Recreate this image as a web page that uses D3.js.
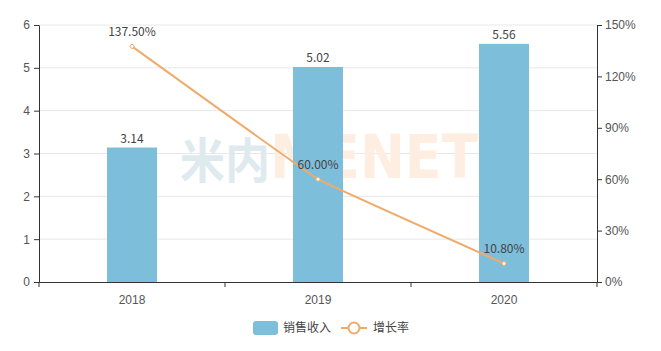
<!DOCTYPE html>
<html>
<head>
<meta charset="utf-8">
<script src="https://cdn.jsdelivr.net/npm/d3@7"></script>
<style>
  body { margin: 0; background: #fff; }
  svg { display: block; font-family: "Microsoft YaHei", "Noto Sans CJK SC", "Noto Sans", sans-serif; }
</style>
</head>
<body>
<svg id="chart" width="661" height="351"></svg>
<script>
const years = ["2018", "2019", "2020"];
const sales = [3.14, 5.02, 5.56];
const growth = [137.5, 60.0, 10.8];
const leftTicks = [0, 1, 2, 3, 4, 5, 6];
const rightTicks = [0, 30, 60, 90, 120, 150];

const margin = { top: 25, right: 64, bottom: 69, left: 39 };
const width = 661, height = 351;
const innerW = width - margin.left - margin.right;
const innerH = height - margin.top - margin.bottom;

const barColor = "#7dbedb";
const lineColor = "#f0ab6b";

const svg = d3.select("#chart");

const xScale = d3.scaleBand().domain(years).range([0, innerW]);
const yLeft = d3.scaleLinear().domain([0, 6]).range([innerH, 0]);
const yRight = d3.scaleLinear().domain([0, 150]).range([innerH, 0]);

const g = svg.append("g").attr("transform", `translate(${margin.left},${margin.top})`);

// grid lines
g.selectAll(".grid")
  .data(leftTicks.slice(1))
  .join("line")
    .attr("x1", 0).attr("x2", innerW)
    .attr("y1", d => yLeft(d)).attr("y2", d => yLeft(d))
    .attr("stroke", "#e8e8e8");

// watermark (behind marks)
g.append("text")
  .attr("x", 141).attr("y", 153)
  .attr("font-size", 48).attr("font-weight", "bold")
  .attr("font-family", "'Noto Sans CJK SC', sans-serif")
  .attr("textLength", 90).attr("lengthAdjust", "spacingAndGlyphs")
  .attr("fill", "#dfeaef")
  .text("米内");
g.append("text")
  .attr("x", 231).attr("y", 153)
  .attr("font-size", 61).attr("font-weight", "bold")
  .attr("font-family", "'DejaVu Sans', sans-serif")
  .attr("textLength", 208).attr("lengthAdjust", "spacingAndGlyphs")
  .attr("fill", "#fdeee1")
  .text("MENET");

// bars
const barW = 50;
g.selectAll(".bar")
  .data(sales)
  .join("rect")
    .attr("x", (d, i) => xScale(years[i]) + xScale.bandwidth() / 2 - barW / 2)
    .attr("y", d => yLeft(d))
    .attr("width", barW)
    .attr("height", d => innerH - yLeft(d))
    .attr("fill", barColor);

g.selectAll(".bar-label")
  .data(sales)
  .join("text")
    .attr("x", (d, i) => xScale(years[i]) + xScale.bandwidth() / 2)
    .attr("y", d => yLeft(d) - 5)
    .attr("text-anchor", "middle")
    .attr("font-size", 12)
    .attr("fill", "#444")
    .text(d => d.toFixed(2));

// axes
const xAxis = d3.axisBottom(xScale).tickSize(5).tickSizeOuter(0);
const xg = g.append("g").attr("transform", `translate(0,${innerH})`).call(xAxis);
// ticks at band boundaries
xg.selectAll(".tick line").remove();
xg.selectAll(".bound")
  .data([0, 1, 2, 3])
  .join("line")
    .attr("x1", d => d * xScale.step()).attr("x2", d => d * xScale.step())
    .attr("y1", 0).attr("y2", 5)
    .attr("stroke", "#333");
xg.select(".domain").attr("stroke", "#333");
xg.selectAll("text").attr("font-size", 12).attr("fill", "#555").attr("dy", "1.2em");

const leftAxis = d3.axisLeft(yLeft).tickValues(leftTicks).tickSize(5).tickSizeOuter(0).tickFormat(d3.format("d"));
const lg = g.append("g").call(leftAxis);
lg.select(".domain").attr("stroke", "#333");
lg.selectAll(".tick line").attr("stroke", "#333");
lg.selectAll("text").attr("font-size", 12).attr("fill", "#555").attr("x", -9);

const rightAxis = d3.axisRight(yRight).tickValues(rightTicks).tickSize(5).tickSizeOuter(0).tickFormat(d => d + "%");
const rg = g.append("g").attr("transform", `translate(${innerW},0)`).call(rightAxis);
rg.select(".domain").attr("stroke", "#333");
rg.selectAll(".tick line").attr("stroke", "#333");
rg.selectAll("text").attr("font-size", 12).attr("fill", "#555").attr("x", 8);

// line
const lineGen = d3.line()
  .x((d, i) => xScale(years[i]) + xScale.bandwidth() / 2)
  .y(d => yRight(d))
  .curve(d3.curveCardinal.tension(0.85));

g.append("path")
  .datum(growth)
  .attr("d", lineGen)
  .attr("fill", "none")
  .attr("stroke", lineColor)
  .attr("stroke-width", 2);

g.selectAll(".pt")
  .data(growth)
  .join("circle")
    .attr("cx", (d, i) => xScale(years[i]) + xScale.bandwidth() / 2)
    .attr("cy", d => yRight(d))
    .attr("r", 2)
    .attr("fill", "#fff")
    .attr("stroke", lineColor)
    .attr("stroke-width", 1);

g.selectAll(".pt-label")
  .data(growth)
  .join("text")
    .attr("x", (d, i) => xScale(years[i]) + xScale.bandwidth() / 2)
    .attr("y", d => yRight(d) - 10)
    .attr("text-anchor", "middle")
    .attr("font-size", 12)
    .attr("fill", "#444")
    .text(d => d.toFixed(2) + "%");

// legend
const leg = svg.append("g").attr("transform", "translate(253,328)");
leg.append("rect")
  .attr("x", 0).attr("y", -7).attr("width", 25).attr("height", 14)
  .attr("rx", 3).attr("fill", barColor);
leg.append("text")
  .attr("x", 30).attr("y", 0).attr("dy", "0.35em")
  .attr("font-size", 12).attr("fill", "#444").text("销售收入");
leg.append("line")
  .attr("x1", 88).attr("x2", 114).attr("y1", 0).attr("y2", 0)
  .attr("stroke", lineColor).attr("stroke-width", 2);
leg.append("circle")
  .attr("cx", 101).attr("cy", 0).attr("r", 5.5)
  .attr("fill", "#fff").attr("stroke", lineColor).attr("stroke-width", 2);
leg.append("text")
  .attr("x", 120).attr("y", 0).attr("dy", "0.35em")
  .attr("font-size", 12).attr("fill", "#444").text("增长率");
</script>
</body>
</html>
